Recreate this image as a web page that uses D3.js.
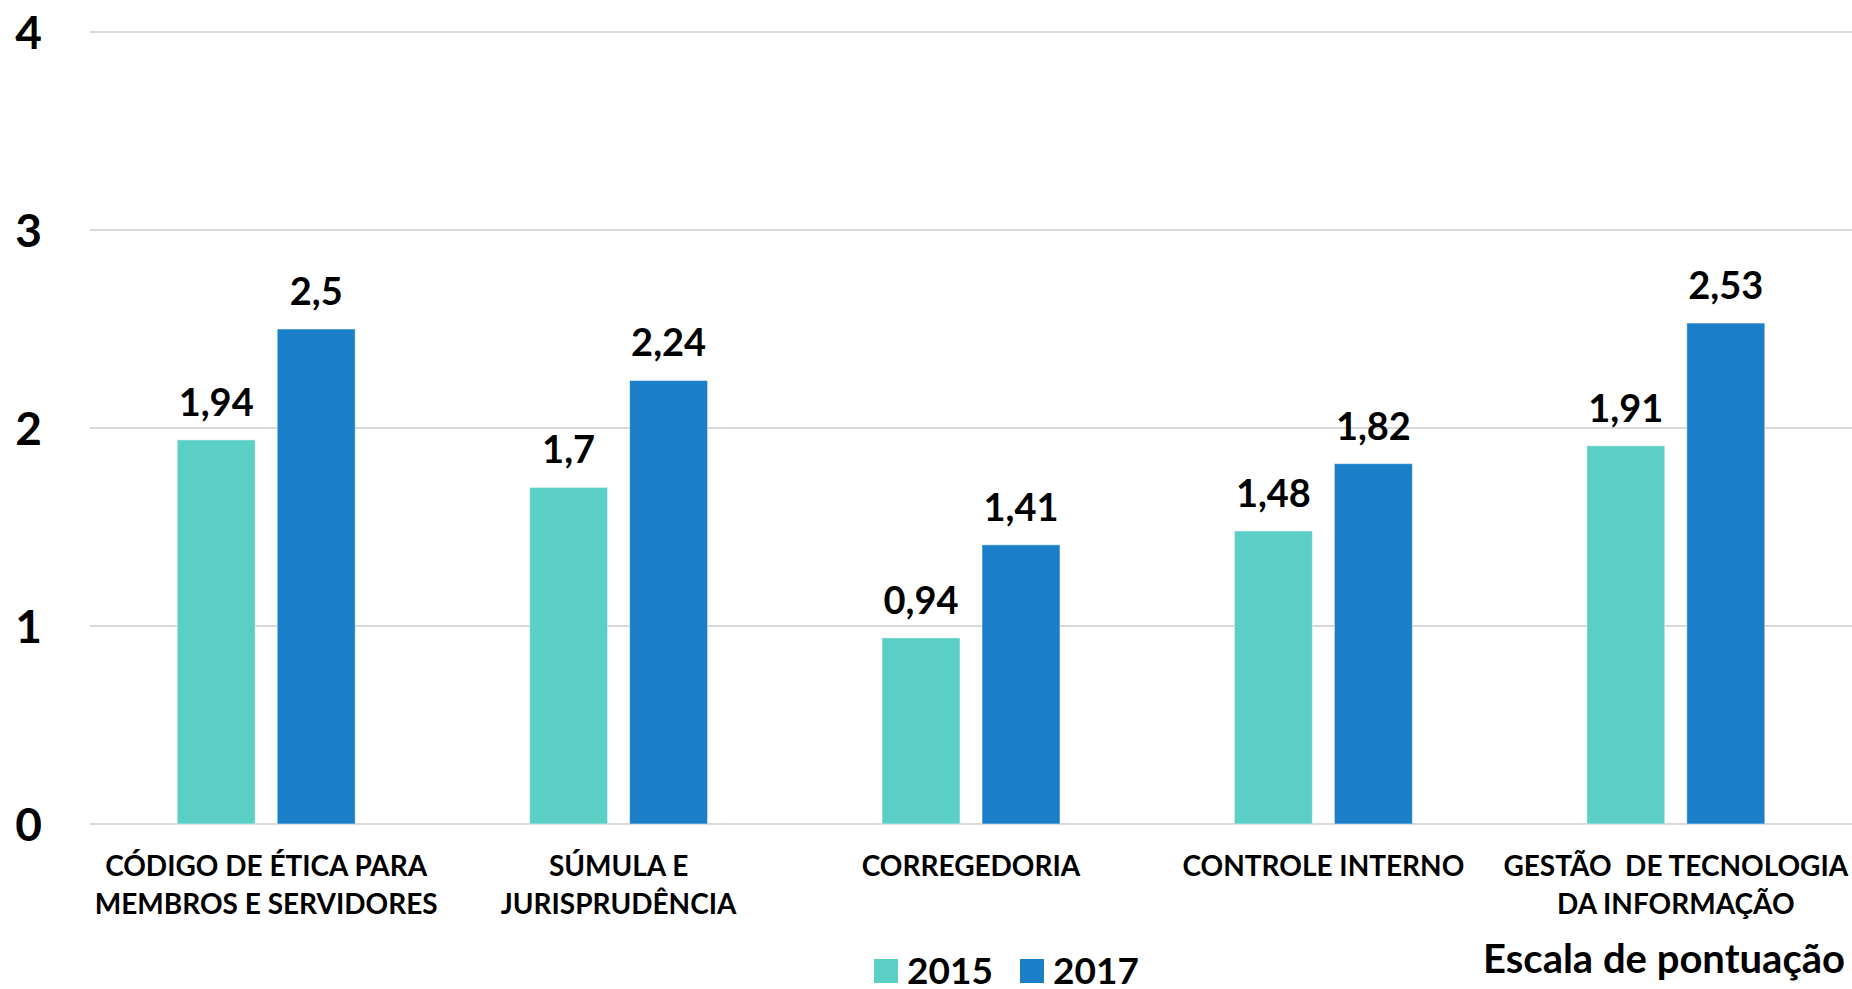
<!DOCTYPE html>
<html>
<head>
<meta charset="utf-8">
<script src="https://cdn.jsdelivr.net/npm/d3@7"></script>
<style>
  body { margin: 0; background: #fff; }
  svg { display: block; font-family: Lato, "Noto Sans", sans-serif; font-weight: bold; }
</style>
</head>
<body>
<div id="chart"></div>
<script>
// chart size
var w = 1852;
var h = 989;

// data
var categories = [
    ["CÓDIGO DE ÉTICA PARA", "MEMBROS E SERVIDORES"],
    ["SÚMULA E", "JURISPRUDÊNCIA"],
    ["CORREGEDORIA"],
    ["CONTROLE INTERNO"],
    ["GESTÃO  DE TECNOLOGIA", "DA INFORMAÇÃO"]
];
var years = ["2015", "2017"];
var values2015 = [1.94, 1.7, 0.94, 1.48, 1.91];
var values2017 = [2.5, 2.24, 1.41, 1.82, 2.53];
var yTicks = [0, 1, 2, 3, 4];
var colors = ["#5BCFC5", "#1A7FC8"];
var scaleTitle = "Escala de pontuação";

var margin = {top: 32, right: 0, bottom: 165, left: 90};

var svg = d3.select("#chart")
    .append("svg")
    .attr("width", w)
    .attr("height", h);

var x0 = d3.scaleBand()
    .domain(d3.range(categories.length))
    .range([margin.left, w - margin.right]);

var x1 = d3.scaleBand()
    .domain(years)
    .range([0, x0.bandwidth()])
    .paddingInner(0.22)
    .paddingOuter(0.872);

var y = d3.scaleLinear()
    .domain([0, 4])
    .range([h - margin.bottom, margin.top]);

// gridlines
svg.append("g")
    .selectAll("line")
    .data(yTicks)
    .enter().append("line")
    .attr("x1", margin.left)
    .attr("x2", w)
    .attr("y1", function(d) { return y(d); })
    .attr("y2", function(d) { return y(d); })
    .style("stroke", "#d9d9d9")
    .style("stroke-width", 2);

// y axis labels
var yAxis = d3.axisLeft(y).tickValues(yTicks).tickFormat(d3.format("d")).tickSize(0).tickPadding(0);
svg.append("g")
    .attr("transform", "translate(42,0)")
    .call(yAxis)
    .call(function(g) { g.select(".domain").remove(); })
    .selectAll("text")
    .attr("font-family", "Lato")
    .attr("font-weight", "bold")
    .attr("font-size", 46)
    .attr("fill", "#000")
    .attr("dy", "0.36em");

// bars
var rows = categories.map(function(c, i) {
    return [{year: "2015", value: values2015[i]}, {year: "2017", value: values2017[i]}];
});

var groups = svg.append("g")
    .selectAll("g")
    .data(rows)
    .enter().append("g")
    .attr("transform", function(d, i) { return "translate(" + x0(i) + ",0)"; });

groups.selectAll("rect")
    .data(function(d) { return d; })
    .enter().append("rect")
    .attr("x", function(d) { return x1(d.year); })
    .attr("y", function(d) { return y(d.value); })
    .attr("width", x1.bandwidth())
    .attr("height", function(d) { return y(0) - y(d.value); })
    .style("fill", function(d, i) { return colors[i]; })
    .style("stroke", "#ffffff")
    .style("stroke-opacity", 0.5)
    .style("stroke-width", 1);

// value labels
groups.selectAll("text")
    .data(function(d) { return d; })
    .enter().append("text")
    .attr("x", function(d) { return x1(d.year) + x1.bandwidth() / 2; })
    .attr("y", function(d) { return y(d.value) - 24; })
    .attr("text-anchor", "middle")
    .attr("font-size", 38)
    .text(function(d) { return String(d.value).replace(".", ","); });

// category labels
var cat = svg.append("g")
    .selectAll("text")
    .data(categories)
    .enter().append("text")
    .attr("x", function(d, i) { return x0(i) + x0.bandwidth() / 2; })
    .attr("y", 876)
    .attr("text-anchor", "middle")
    .attr("font-size", 28)
    .style("white-space", "pre");

cat.selectAll("tspan")
    .data(function(d) { return d; })
    .enter().append("tspan")
    .attr("x", function() { return d3.select(this.parentNode).attr("x"); })
    .attr("dy", function(d, i) { return i === 0 ? 0 : 38; })
    .text(function(d) { return d; });

// legend
var legend = svg.append("g")
    .selectAll("g")
    .data(years)
    .enter().append("g")
    .attr("transform", function(d, i) { return "translate(" + (874 + i * 146) + ",959)"; });

legend.append("rect")
    .attr("width", 24)
    .attr("height", 24)
    .style("fill", function(d, i) { return colors[i]; });

legend.append("text")
    .attr("x", 33)
    .attr("y", 25)
    .attr("font-size", 37)
    .text(function(d) { return d; });

// scale title
svg.append("text")
    .attr("x", 1845)
    .attr("y", 973)
    .attr("text-anchor", "end")
    .attr("font-size", 40)
    .text(scaleTitle);
</script>
</body>
</html>
